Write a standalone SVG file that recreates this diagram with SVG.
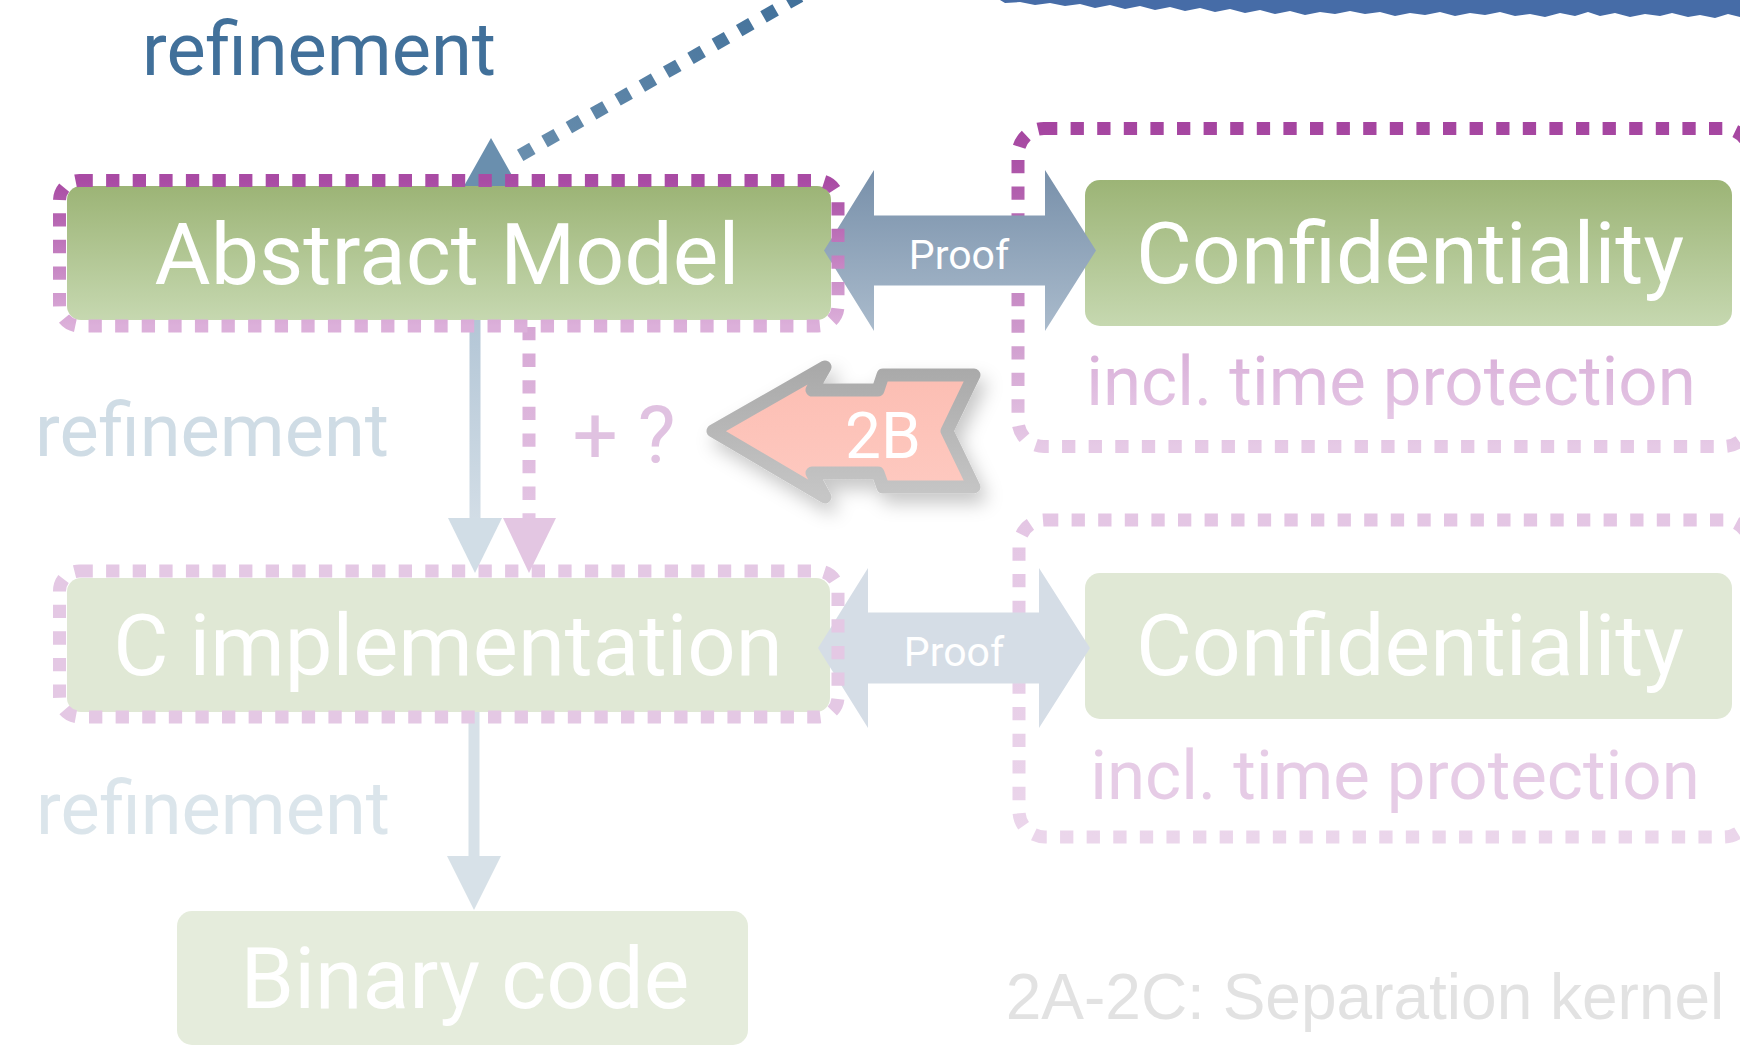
<svg xmlns="http://www.w3.org/2000/svg" width="1740" height="1046" viewBox="0 0 1740 1046">
<style>
text{font-family:Roboto,"Liberation Sans",sans-serif;text-anchor:middle}
.big{font-size:86px;fill:#ffffff}
.lbl{font-size:74px}
.incl{font-size:69px}
.proof{font-size:41px;fill:#ffffff}
.dot{fill:none;stroke-width:13;stroke-dasharray:13.3 13.3}
</style>
<defs>
<linearGradient id="gGreen" x1="0" y1="0" x2="0" y2="1"><stop offset="0" stop-color="#9cb476"/><stop offset="1" stop-color="#c6d8b0"/></linearGradient>
<linearGradient id="gProof" x1="0" y1="0" x2="0" y2="1"><stop offset="0" stop-color="#7890aa"/><stop offset="1" stop-color="#aabbcc"/></linearGradient>
<linearGradient id="gAbsB" x1="0" y1="0" x2="0" y2="1"><stop offset="0" stop-color="#a94ba4"/><stop offset="1" stop-color="#dcb0da"/></linearGradient>
<linearGradient id="gTopC" x1="0" y1="0" x2="0" y2="1"><stop offset="0" stop-color="#a545a0"/><stop offset="1" stop-color="#e6cae6"/></linearGradient>
<linearGradient id="gBotC" x1="0" y1="0" x2="0" y2="1"><stop offset="0" stop-color="#e4c6e4"/><stop offset="1" stop-color="#ebd6eb"/></linearGradient>
<linearGradient id="gInclT" x1="0" y1="0" x2="0" y2="1"><stop offset="0" stop-color="#d7acd7"/><stop offset="1" stop-color="#e6c9e6"/></linearGradient>
<linearGradient id="gVBlue" x1="0" y1="0" x2="0" y2="1"><stop offset="0" stop-color="#b3c6d6"/><stop offset="1" stop-color="#d2dde6"/></linearGradient>
<linearGradient id="gVPur" gradientUnits="userSpaceOnUse" x1="0" y1="320" x2="0" y2="520"><stop offset="0" stop-color="#d6a6d4"/><stop offset="1" stop-color="#e4c6e4"/></linearGradient>
<linearGradient id="gRef" x1="1" y1="0" x2="0" y2="1"><stop offset="0" stop-color="#41709a"/><stop offset="1" stop-color="#6a8fae"/></linearGradient>
<linearGradient id="g2BS" x1="0" y1="0" x2="0" y2="1"><stop offset="0" stop-color="#a9a9a9"/><stop offset="1" stop-color="#c6c6c6"/></linearGradient>
<linearGradient id="g2BF" x1="0" y1="0" x2="0" y2="1"><stop offset="0" stop-color="#fcbdb2"/><stop offset="1" stop-color="#fecac1"/></linearGradient>
<filter id="shadow" x="-20%" y="-30%" width="150%" height="170%"><feDropShadow dx="6" dy="10" stdDeviation="9" flood-color="#000" flood-opacity="0.22"/></filter>
</defs>
<rect width="1740" height="1046" fill="#ffffff"/>

<g id="scribble">
<path fill="#466ca7" d="M1000,0 L1740,0 L1740,17 L1728,14 L1715,18 L1700,15 L1688,17 L1672,13 L1660,16 L1645,14 L1630,17 L1615,13 L1600,16 L1588,12 L1575,16 L1560,13 L1545,17 L1530,14 L1515,16 L1500,12 L1485,15 L1470,13 L1455,16 L1440,12 L1425,15 L1410,13 L1395,16 L1380,12 L1365,14 L1350,11 L1335,14 L1320,12 L1305,15 L1290,11 L1275,14 L1260,10 L1245,13 L1230,9 L1215,12 L1200,8 L1185,11 L1170,7 L1155,10 L1140,6 L1125,9 L1110,5 L1095,8 L1080,4 L1065,6 L1050,3 L1035,5 L1020,2 L1005,3 Z"/>
</g>

<g id="labels-left">
<text class="lbl" x="319" y="75" fill="#41709a">refinement</text>
<text class="lbl" x="212" y="456" fill="#cfdce5">refinement</text>
<text class="lbl" x="213" y="834" fill="#dbe5eb">refinement</text>
<text x="624" y="463" style="font-size:80px" fill="#e0c2e1">+ ?</text>
</g>

<g id="connectors">
<!-- top dotted refinement arrow -->
<polygon points="491,138 464,186 518,186" fill="#6a8fae"/>
<line x1="800" y1="-4" x2="512" y2="160" stroke="url(#gRef)" stroke-width="13" stroke-dasharray="14 14"/>
<!-- Abstract -> C refinement -->
<rect x="469.5" y="320" width="11" height="200" fill="url(#gVBlue)"/>
<polygon points="448,518 502,518 475,573" fill="#d1dde6"/>
<!-- dashed purple -->
<line x1="529" y1="327" x2="529" y2="520" stroke="url(#gVPur)" stroke-width="13" stroke-dasharray="13.3 13.3"/>
<polygon points="503,518 556,518 529,573" fill="#e3c6e2"/>
<!-- C -> Binary refinement -->
<rect x="468.5" y="712" width="11" height="146" fill="#d7e1e8"/>
<polygon points="447,856 501,856 474,910" fill="#d7e1e8"/>
</g>

<g id="container-top">
<rect class="dot" x="1018" y="128.5" width="732" height="318" rx="26" stroke="url(#gTopC)"/>
<text class="incl" x="1391" y="405" fill="url(#gInclT)">incl. time protection</text>
</g>
<g id="container-bottom">
<rect class="dot" x="1019" y="520" width="731" height="317" rx="26" stroke="url(#gBotC)"/>
<text class="incl" x="1395" y="799" fill="#e6cce6">incl. time protection</text>
</g>

<g id="abstract-model">
<rect x="67" y="186" width="764" height="134" rx="14" fill="url(#gGreen)"/>
<text class="big" x="447" y="284">Abstract Model</text>
</g>

<g id="conf-top">
<rect x="1085" y="180" width="647" height="146" rx="15" fill="url(#gGreen)"/>
<text class="big" x="1410" y="283">Confidentiality</text>
</g>

<g id="proof-top">
<polygon points="824,250.5 874,170 874,215.5 1045,215.5 1045,170 1096,250.5 1045,331 1045,285.5 874,285.5 874,331" fill="url(#gProof)"/>
<text class="proof" x="959" y="269">Proof</text>
</g>

<g id="abstract-border">
<rect class="dot" x="59.5" y="180.5" width="778.5" height="145.5" rx="20" stroke="url(#gAbsB)"/>
</g>

<g id="c-implementation">
<rect x="67" y="578" width="763" height="134" rx="14" fill="#e0e8d5"/>
<text class="big" x="448" y="675" style="font-size:85px">C implementation</text>
</g>

<g id="conf-bottom">
<rect x="1085" y="573" width="647" height="146" rx="15" fill="#e0e8d5"/>
<text class="big" x="1410" y="675">Confidentiality</text>
</g>

<g id="proof-bottom">
<polygon points="818,648 868,568 868,612.5 1039,612.5 1039,568 1090,648 1039,728 1039,683.5 868,683.5 868,728" fill="#d5dde6"/>
<text class="proof" x="954" y="666">Proof</text>
</g>

<g id="c-border">
<rect class="dot" x="59.5" y="571" width="778.5" height="146" rx="20" stroke="#e4c8e4"/>
</g>

<g id="binary-code">
<rect x="177" y="911" width="571" height="134" rx="15" fill="#e5ecdc"/>
<text class="big" x="465" y="1008">Binary code</text>
</g>

<g id="badge-2B" filter="url(#shadow)">
<polygon points="713,431 825,367 812,390 878,390 883,375 974,375 947,431 974,487 883,487 878,473 812,473 825,497" fill="url(#g2BF)" stroke="url(#g2BS)" stroke-width="13" stroke-linejoin="round"/>
<text x="883" y="458" style="font-size:64px" fill="#ffffff">2B</text>
</g>

<g id="caption">
<text x="1365" y="1019" style="font-family:'Liberation Sans',Arial,sans-serif;font-size:64px" fill="#e2e2e2">2A-2C: Separation kernel</text>
</g>
</svg>
